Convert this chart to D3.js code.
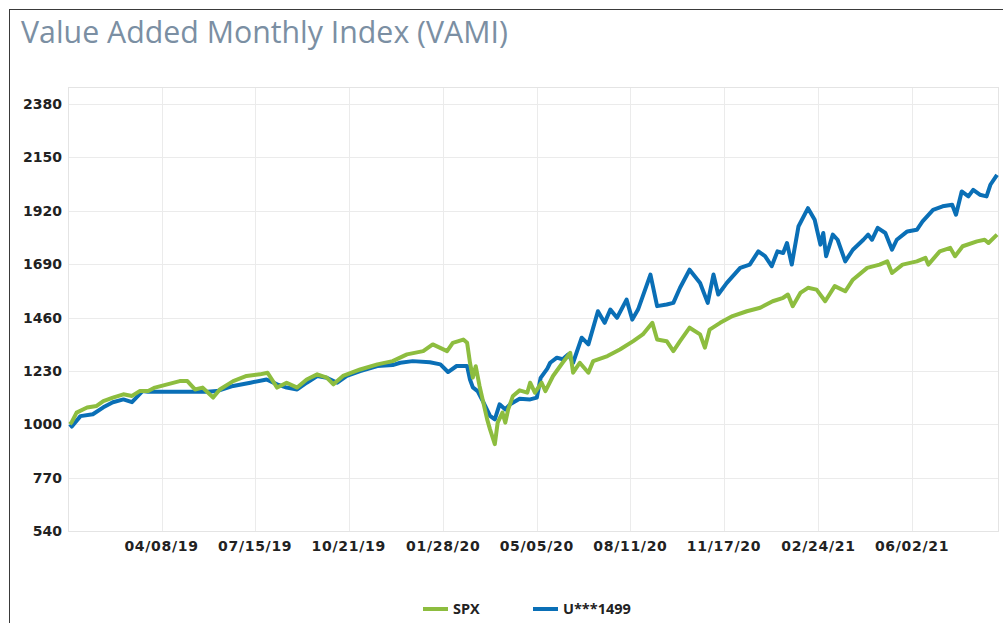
<!DOCTYPE html>
<html>
<head>
<meta charset="utf-8">
<script src="https://cdn.jsdelivr.net/npm/d3@7"></script>
<style>
  body { margin: 0; background: #fff; }
  svg { display: block; }
</style>
</head>
<body>
<div id="chart"></div>
<script>
// VAMI chart: growth of 1000 for SPX vs the account

const seriesNames = ["SPX", "U***1499"];
const seriesColors = ["#8dbd3f", "#0a6fb6"];

// SPX values
const spx = [
  ["2019-01-02",1000],["2019-01-04",1010],["2019-01-09",1050],["2019-01-20",1072],["2019-01-30",1079],
  ["2019-02-06",1100],["2019-02-16",1115],["2019-02-27",1129],["2019-03-08",1122],["2019-03-16",1143],
  ["2019-03-25",1143],["2019-04-01",1158],["2019-04-14",1172],["2019-04-27",1186],["2019-05-05",1186],
  ["2019-05-13",1150],["2019-05-21",1158],["2019-06-01",1115],["2019-06-08",1150],["2019-06-22",1186],
  ["2019-07-06",1208],["2019-07-20",1215],["2019-07-28",1222],["2019-08-07",1158],["2019-08-17",1179],
  ["2019-08-28",1158],["2019-09-07",1193],["2019-09-18",1215],["2019-09-28",1201],["2019-10-05",1172],
  ["2019-10-15",1208],["2019-11-02",1236],["2019-11-20",1258],["2019-12-06",1272],["2019-12-21",1301],
  ["2020-01-07",1315],["2020-01-17",1344],["2020-02-01",1315],["2020-02-07",1351],["2020-02-18",1365],
  ["2020-02-22",1351],["2020-02-25",1265],["2020-02-28",1201],["2020-03-02",1250],["2020-03-06",1165],
  ["2020-03-10",1093],["2020-03-14",1021],["2020-03-17",978],["2020-03-22",914],["2020-03-25",1007],
  ["2020-03-30",1050],["2020-04-02",1007],["2020-04-05",1064],["2020-04-10",1122],["2020-04-17",1146],
  ["2020-04-25",1136],["2020-04-28",1179],["2020-05-03",1136],["2020-05-10",1179],["2020-05-14",1143],
  ["2020-05-22",1208],["2020-06-01",1265],["2020-06-09",1308],["2020-06-12",1222],["2020-06-19",1265],
  ["2020-06-28",1222],["2020-07-03",1272],["2020-07-18",1294],["2020-07-31",1322],["2020-08-14",1358],
  ["2020-08-24",1387],["2020-09-03",1437],["2020-09-08",1365],["2020-09-18",1358],["2020-09-25",1315],
  ["2020-10-02",1358],["2020-10-12",1416],["2020-10-23",1387],["2020-10-28",1330],["2020-11-02",1408],
  ["2020-11-13",1437],["2020-11-26",1466],["2020-12-11",1487],["2020-12-25",1502],["2021-01-07",1530],
  ["2021-01-18",1545],["2021-01-23",1559],["2021-01-28",1509],["2021-02-05",1566],["2021-02-13",1588],
  ["2021-02-22",1580],["2021-03-03",1530],["2021-03-13",1595],["2021-03-24",1573],["2021-04-01",1623],
  ["2021-04-16",1674],["2021-04-29",1688],["2021-05-07",1702],["2021-05-12",1652],["2021-05-23",1688],
  ["2021-06-07",1702],["2021-06-16",1717],["2021-06-19",1688],["2021-07-01",1745],["2021-07-12",1760],
  ["2021-07-17",1724],["2021-07-25",1767],["2021-08-09",1788],["2021-08-17",1795],["2021-08-21",1781],
  ["2021-08-30",1817]
];

// account values
const account = [
  ["2019-01-02",1000],["2019-01-04",990],["2019-01-13",1035],["2019-01-26",1043],["2019-02-06",1073],
  ["2019-02-16",1095],["2019-02-27",1107],["2019-03-08",1095],["2019-03-19",1143],["2019-03-25",1140],
  ["2019-05-26",1140],["2019-06-05",1143],["2019-06-22",1165],["2019-07-10",1179],["2019-07-27",1193],
  ["2019-08-07",1172],["2019-08-17",1158],["2019-08-28",1150],["2019-09-07",1179],["2019-09-18",1208],
  ["2019-09-28",1200],["2019-10-09",1179],["2019-10-19",1208],["2019-11-02",1229],["2019-11-20",1251],
  ["2019-12-06",1255],["2019-12-14",1265],["2019-12-27",1272],["2020-01-14",1267],["2020-01-25",1258],
  ["2020-02-02",1225],["2020-02-11",1251],["2020-02-22",1251],["2020-02-25",1193],["2020-02-28",1159],
  ["2020-03-04",1143],["2020-03-10",1095],["2020-03-17",1036],["2020-03-22",1021],["2020-03-27",1086],
  ["2020-04-02",1064],["2020-04-07",1086],["2020-04-17",1110],["2020-04-28",1107],["2020-05-05",1115],
  ["2020-05-09",1200],["2020-05-16",1240],["2020-05-19",1265],["2020-05-26",1287],["2020-06-01",1280],
  ["2020-06-07",1301],["2020-06-12",1265],["2020-06-21",1373],["2020-06-28",1344],["2020-07-08",1487],
  ["2020-07-15",1437],["2020-07-21",1494],["2020-07-28",1459],["2020-08-07",1537],["2020-08-13",1451],
  ["2020-08-19",1494],["2020-09-01",1645],["2020-09-08",1509],["2020-09-18",1516],["2020-09-25",1523],
  ["2020-10-02",1588],["2020-10-12",1666],["2020-10-23",1609],["2020-10-31",1523],["2020-11-06",1645],
  ["2020-11-11",1559],["2020-11-20",1609],["2020-12-04",1674],["2020-12-14",1688],["2020-12-23",1745],
  ["2020-12-30",1724],["2021-01-06",1681],["2021-01-12",1745],["2021-01-18",1738],["2021-01-22",1781],
  ["2021-01-27",1688],["2021-02-03",1852],["2021-02-13",1931],["2021-02-20",1881],["2021-02-26",1774],
  ["2021-03-01",1824],["2021-03-04",1724],["2021-03-11",1817],["2021-03-16",1795],["2021-03-24",1702],
  ["2021-04-01",1752],["2021-04-12",1795],["2021-04-17",1817],["2021-04-21",1795],["2021-04-27",1846],
  ["2021-05-05",1824],["2021-05-12",1752],["2021-05-17",1795],["2021-05-28",1831],["2021-06-07",1838],
  ["2021-06-13",1874],["2021-06-24",1924],["2021-07-04",1939],["2021-07-14",1946],["2021-07-18",1903],
  ["2021-07-24",2003],["2021-07-31",1982],["2021-08-05",2010],["2021-08-12",1989],["2021-08-19",1982],
  ["2021-08-23",2032],["2021-08-30",2075]
];

const yTicks = [540, 770, 1000, 1230, 1460, 1690, 1920, 2150, 2380];
const xTicks = ["2019-04-08","2019-07-15","2019-10-21","2020-01-28","2020-05-05",
                "2020-08-11","2020-11-17","2021-02-24","2021-06-02"];

const width = 1003, height = 623;
const plotLeft = 68, plotRight = 998, plotTop = 87, plotBottom = 531;
const parse = d3.timeParse("%Y-%m-%d");
const fmt = d3.timeFormat("%m/%d/%y");

const svg = d3.select("#chart")
  .append("svg")
    .attr("width", width)
    .attr("height", height);

// outer frame (runs off the right and bottom)
svg.append("rect")
    .attr("x", 9.5).attr("y", 9.5)
    .attr("width", width + 20).attr("height", height + 20)
    .attr("fill", "none")
    .attr("stroke", "#3a3a3a");

svg.append("text")
    .attr("x", 21)
    .attr("y", 43)
    .text("Value Added Monthly Index (VAMI)")
    .attr("font-family", "'Open Sans', sans-serif")
    .attr("font-size", "30.3px")
    .attr("fill", "#7b8fa3");

const x = d3.scaleTime()
    .domain([parse("2018-12-31"), parse("2021-08-31")])
    .range([plotLeft, plotRight]);

const y = d3.scaleLinear()
    .domain([540, 2380])
    .range([plotBottom, plotBottom - 427]);

// grid
svg.append("g")
  .selectAll("line")
  .data(yTicks)
  .join("line")
    .attr("x1", plotLeft).attr("x2", plotRight)
    .attr("y1", d => Math.round(y(d)) + 0.5)
    .attr("y2", d => Math.round(y(d)) + 0.5)
    .attr("stroke", "#ebebeb");

svg.append("g")
  .selectAll("line")
  .data(xTicks)
  .join("line")
    .attr("x1", d => Math.round(x(parse(d))) + 0.5)
    .attr("x2", d => Math.round(x(parse(d))) + 0.5)
    .attr("y1", plotTop).attr("y2", plotBottom)
    .attr("stroke", "#ebebeb");

svg.append("rect")
    .attr("x", plotLeft + 0.5).attr("y", plotTop + 0.5)
    .attr("width", plotRight - plotLeft).attr("height", plotBottom - plotTop)
    .attr("fill", "none")
    .attr("stroke", "#e4e4e4");

// axis labels
svg.append("g")
  .selectAll("text")
  .data(yTicks)
  .join("text")
    .attr("x", 62)
    .attr("y", d => y(d))
    .attr("dy", "0.36em")
    .attr("text-anchor", "end")
    .text(d => d)
    .attr("font-family", "'DejaVu Sans', sans-serif")
    .attr("font-weight", "bold")
    .attr("font-size", "14px")
    .attr("fill", "#222");

svg.append("g")
  .selectAll("text")
  .data(xTicks)
  .join("text")
    .attr("x", d => x(parse(d)))
    .attr("y", 551)
    .attr("text-anchor", "middle")
    .text(d => fmt(parse(d)))
    .attr("font-family", "'DejaVu Sans', sans-serif")
    .attr("font-weight", "bold")
    .attr("font-size", "14px")
    .attr("letter-spacing", "0.7px")
    .attr("fill", "#222");

// lines: account first, SPX on top
const line = d3.line()
    .x(d => x(parse(d[0])))
    .y(d => y(d[1]));

[[account, seriesColors[1]], [spx, seriesColors[0]]].forEach(([data, color]) => {
  svg.append("path")
      .datum(data)
      .attr("fill", "none")
      .attr("stroke", color)
      .attr("stroke-width", 4)
      .attr("stroke-linejoin", "round")
      .attr("d", line);
});

// legend
const legendX = [423, 533];
const legend = svg.append("g")
  .selectAll("g")
  .data(seriesNames)
  .join("g")
    .attr("transform", (d, i) => `translate(${legendX[i]},609)`);
legend.append("line")
    .attr("x1", 0).attr("x2", 25)
    .attr("stroke", (d, i) => seriesColors[i])
    .attr("stroke-width", 4);
legend.append("text")
    .attr("x", 30)
    .attr("y", 5)
    .text(d => d)
    .attr("font-family", "'Open Sans', sans-serif")
    .attr("font-weight", "bold")
    .attr("font-size", "14.5px")
    .attr("fill", "#222");
</script>
</body>
</html>
